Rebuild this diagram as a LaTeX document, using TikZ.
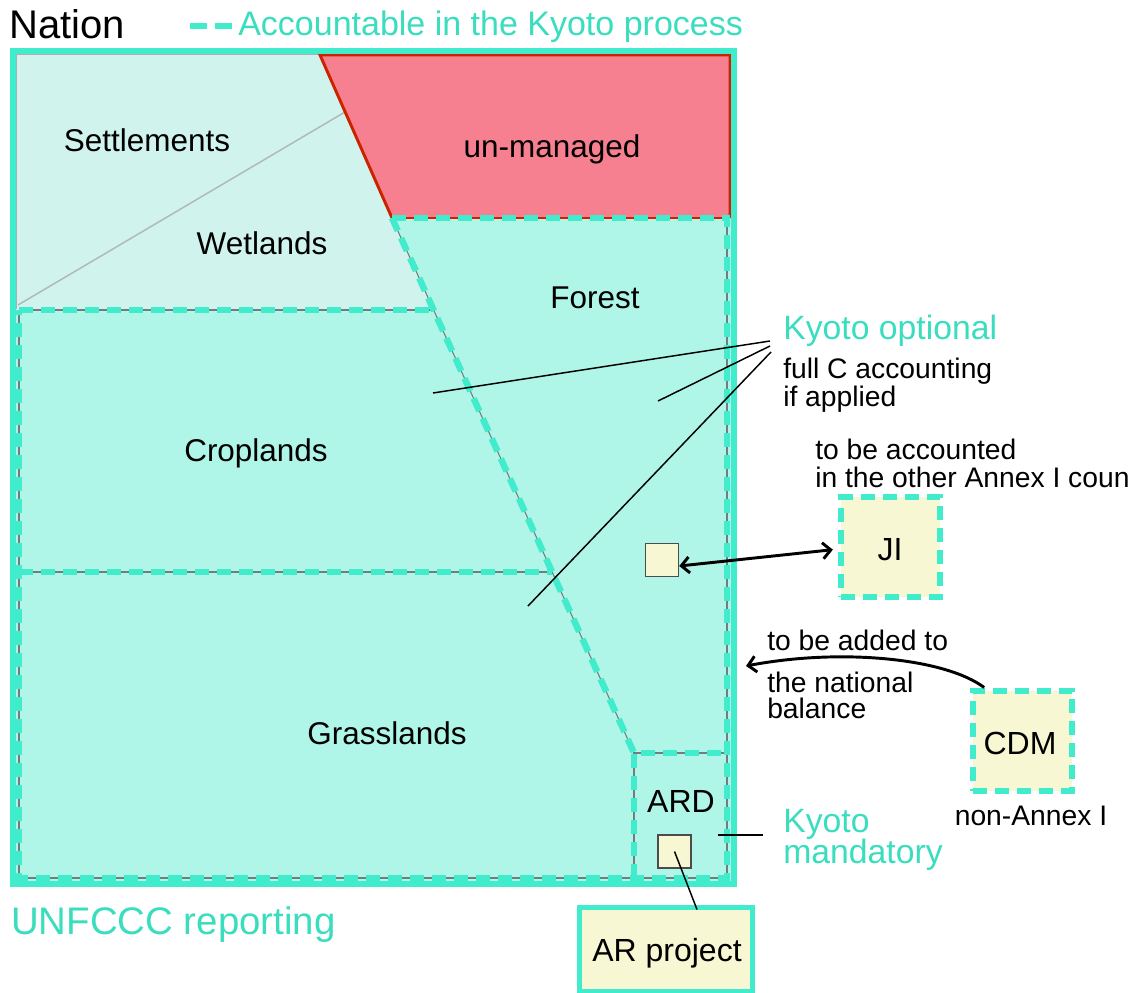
\documentclass[tikz,border=0pt]{standalone}
\usepackage{fontspec}
\setmainfont{Liberation Sans}
\usetikzlibrary{arrows.meta,calc}
\definecolor{teal1}{RGB}{64,236,204}
\definecolor{tealtxt}{RGB}{58,222,190}
\definecolor{mgfill}{RGB}{175,245,232}
\definecolor{umfill}{RGB}{208,243,238}
\definecolor{pinkfill}{RGB}{246,128,143}
\definecolor{redline}{RGB}{204,34,0}
\definecolor{cream}{RGB}{247,247,211}
\definecolor{glinec}{RGB}{115,125,125}
\newcommand\szNation{\fontsize{30pt}{32pt}\selectfont}
\newcommand\szLeg{\fontsize{25.5pt}{28pt}\selectfont}
\newcommand\szLab{\fontsize{23.6pt}{26pt}\selectfont}
\newcommand\szBox{\fontsize{24pt}{26pt}\selectfont}
\newcommand\szSmall{\fontsize{21.2pt}{23pt}\selectfont}
\newcommand\szKyoto{\fontsize{25.3pt}{27pt}\selectfont}
\newcommand\szUN{\fontsize{28.8pt}{31pt}\selectfont}
\begin{document}
\begin{tikzpicture}[x=0.75pt,y=-0.75pt,
  kdash/.style={draw=teal1, line width=4.8pt, dash pattern=on 10.5pt off 6pt},
  under/.style={draw=glinec, line width=0.8pt},
  lbl/.style={anchor=base, inner sep=0pt, font=\szLab, text=black},
  lblw/.style={anchor=base west, inner sep=0pt, text=black},
  lead/.style={draw=black, line width=1.1pt},
  sqbox/.style={draw=black!70, fill=cream, line width=1.1pt, minimum size=24.75pt, inner sep=0pt},
  dbox/.style={draw=teal1, fill=cream, line width=4.5pt, dash pattern=on 10.5pt off 6pt,
    minimum width=74pt, minimum height=75pt, inner sep=0pt, font=\szBox},
  barb/.tip={Straight Barb[length=6pt,width=12pt]}
]
\useasboundingbox (0,0) rectangle (1138,992);
\fill[white] (0,0) rectangle (1138,992);

% --- region fills ---
\fill[mgfill] (16,54) rectangle (731,881);
\fill[umfill] (16,54) -- (320,54) -- (433,310) -- (16,310) -- cycle;
\fill[pinkfill] (320,55) -- (730,55) -- (730,218) -- (392,218) -- cycle;
\draw[glinec!60, line width=0.8pt] (16,309) -- (16,54) -- (320,54);
\draw[glinec!55, line width=1.1pt] (18,305) -- (345,112);
\draw[redline, line width=2.2pt, line join=miter] (392,218) -- (320,55) -- (730,55) -- (730,218);
\draw[redline, line width=2.2pt] (392,218) -- (730,218);

% --- thin grey lines beneath the dashed boundaries ---
\draw[under] (19,310) -- (433,310);
\draw[under] (19,572) -- (552,572);
\draw[under] (392,218) -- (634,753);
\draw[under] (727,218) -- (727,878) -- (19,878) -- (19,310);
\draw[under] (634,878) -- (634,753) -- (727,753);

% --- dashed boundaries (Kyoto accountable) ---
\draw[kdash] (19,310) -- (433,310);
\draw[kdash] (19,572) -- (552,572);
\draw[kdash] (392,218) -- (634,753);
\draw[kdash] (392,218) -- (727,218) -- (727,878) -- (19,878) -- (19,310);
\draw[kdash] (634,878) -- (634,753) -- (727,753);

% --- outer nation frame ---
\draw[teal1, line width=4.5pt] (13,51) rectangle (734,884);

% --- header ---
\node[lblw, font=\szNation] (nation) at (9,38) {Nation};
\draw[teal1, line width=5pt] (190,26) -- (207,26) (215,26) -- (232,26);
\node[lblw, font=\szLeg, text=tealtxt] (legend) at (238,36) {Accountable in the Kyoto process};

% --- land-use labels ---
\node[lbl] (settl) at (147,151) {Settlements};
\node[lbl] (wetl) at (262,254) {Wetlands};
\node[lbl] (unman) at (552,157) {un-managed};
\node[lbl] (forest) at (595,308) {Forest};
\node[lbl] (cropl) at (256,461) {Croplands};
\node[lbl] (grassl) at (387,744) {Grasslands};
\node[lbl, font=\szBox] (ard) at (681,812) {ARD};

% --- small project squares ---
\node[sqbox] (jisq) at (662,560) {};
\node[sqbox] (ardsq) at (674.5,851.5) {};

% --- project boxes ---
\node[dbox] (jibox) at (890.5,547) {};
\node[anchor=base, inner sep=0pt, font=\szBox] (jitxt) at (890,560) {JI};
\node[dbox] (cdm) at (1022.5,740.5) {};
\node[anchor=base, inner sep=0pt, font=\szBox] (cdmtxt) at (1020,754) {CDM};
\node[draw=teal1, fill=cream, line width=3.75pt, minimum width=130pt, minimum height=63pt,
      inner sep=0pt] (arproj) at (666,949) {};
\node[anchor=base, inner sep=0pt, font=\szBox] (artxt) at (667,961) {AR project};

% --- right-hand texts ---
\node[lblw, font=\szKyoto, text=tealtxt] (kopt) at (783,339) {Kyoto optional};
\node[lblw, font=\szSmall] (fullc) at (783,378) {full C accounting};
\node[lblw, font=\szSmall] (ifapp) at (783,406) {if applied};
\node[lblw, font=\szSmall] (tba1) at (815,459) {to be accounted};
\node[lblw, font=\szSmall] (tba2) at (815,487) {in the other Annex I coun};
\node[lblw, font=\szSmall] (add1) at (767,650) {to be added to};
\node[lblw, font=\szSmall] (add2) at (767,692) {the national};
\node[lblw, font=\szSmall] (add3) at (767,718) {balance};
\node[anchor=base, inner sep=0pt, font=\szSmall] (nonannex) at (1031,825) {non-Annex I};
\node[lblw, font=\szKyoto, text=tealtxt] (kman1) at (783,832) {Kyoto};
\node[lblw, font=\szKyoto, text=tealtxt] (kman2) at (783,863) {mandatory};
\node[lblw, font=\szUN, text=tealtxt] (unfccc) at (11,934) {UNFCCC reporting};

% --- leader lines ---
\coordinate (koC1) at (770,341);
\coordinate (koC2) at (770,346);
\coordinate (koC3) at (771,352);
\coordinate (croppt) at (433,393);
\coordinate (forpt) at (658,401);
\coordinate (graspt) at (528,606);
\draw[lead] (croppt) -- (koC1);
\draw[lead] (forpt) -- (koC2);
\draw[lead] (graspt) -- (koC3);
\coordinate (kmA) at (718,835);
\coordinate (kmB) at (763,835);
\draw[lead] (kmA) -- (kmB);
\draw[lead] (ardsq.center) -- ($(arproj.north)+(31,5)$);

% --- arrows ---
\draw[line width=2.2pt, {barb}-{barb}] ([yshift=-4.5pt]jisq.east) -- ([xshift=-4pt,yshift=-2pt]jibox.west);
\coordinate (natbal) at (746,666);
\draw[line width=2.2pt, -{barb}] ([xshift=10.5pt,yshift=0pt]cdm.north west)
  .. controls (945,658) and (840,648) .. (natbal);
\end{tikzpicture}
\end{document}
